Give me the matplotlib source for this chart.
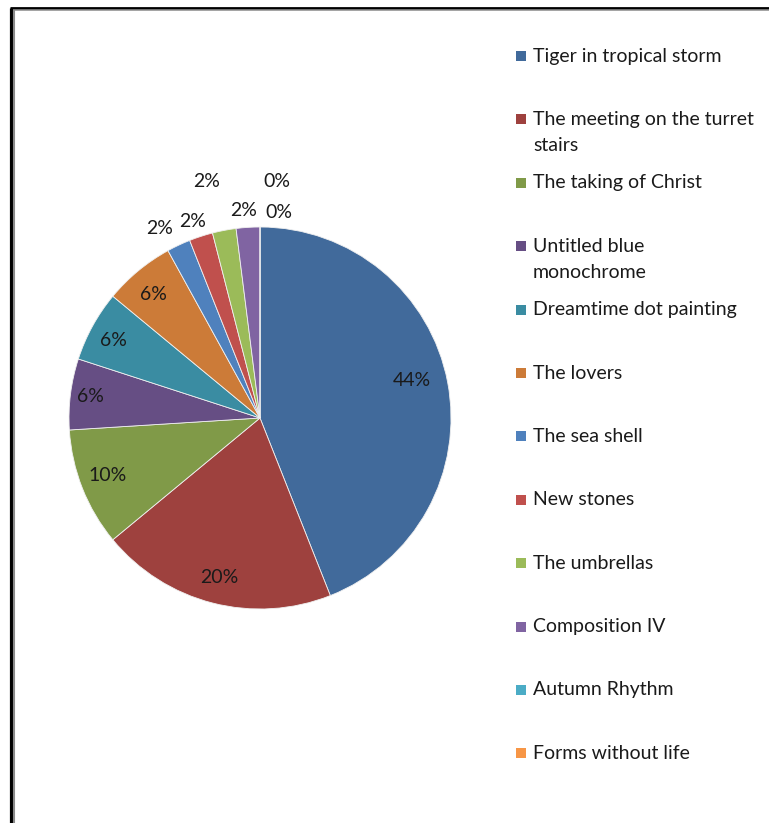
import numpy as np
import matplotlib
matplotlib.use("Agg")
import matplotlib.pyplot as plt
from matplotlib.patches import Rectangle
from matplotlib.lines import Line2D

# ---- data ----
categories = [
    "Tiger in tropical storm",
    "The meeting on the turret\nstairs",
    "The taking of Christ",
    "Untitled blue\nmonochrome",
    "Dreamtime dot painting",
    "The lovers",
    "The sea shell",
    "New stones",
    "The umbrellas",
    "Composition IV",
    "Autumn Rhythm",
    "Forms without life",
]
values = [44, 20, 10, 6, 6, 6, 2, 2, 2, 2, 0, 0]
colors = ["#416A9B", "#9E413E", "#809A48", "#664E84", "#3A8CA2", "#CC7B38",
          "#4F81BD", "#C0504D", "#9BBB59", "#8064A2", "#4BACC6", "#F79646"]

# label placement (radius in pie units, angular nudge in degrees)
label_r = [0.82, 0.86, 0.855, 0.895, 0.87, 0.855, 1.12, 1.09, 1.27, 1.09, 1.24, 1.08]
label_dtheta = [3, 0, -1, 0, 1, 1, 2.7, 1, 2, 1, -4.1, -5.3]

plt.rcParams['font.family'] = ['Lato', 'DejaVu Sans']
FS = 14
TXT = "#1a1a1a"

W, H = 769, 823
fig = plt.figure(figsize=(W / 100, H / 100), dpi=100)

# overlay axes in pixel coordinates (frame + legend)
ov = fig.add_axes([0, 0, 1, 1])
ov.set_xlim(0, W)
ov.set_ylim(H, 0)
ov.axis('off')

# frame lines
ov.add_line(Line2D([11, 11], [8, H + 5], color="black", lw=2.3, solid_capstyle='butt'))
ov.add_line(Line2D([9.5, W + 5], [8, 8], color="black", lw=2.0, solid_capstyle='butt'))
ov.add_line(Line2D([14, 14], [10, H + 5], color="#8a8a8a", lw=1.5, solid_capstyle='butt'))
ov.add_line(Line2D([13, W + 5], [10.2, 10.2], color="#8a8a8a", lw=1.1, solid_capstyle='butt'))

# pie axes
cx, cy, R = 260, 418, 191
ax = fig.add_axes([(cx - R) / W, (H - (cy + R)) / H, 2 * R / W, 2 * R / H])
wedges, _ = ax.pie(values, colors=colors, startangle=90, counterclock=False,
                   radius=1, wedgeprops=dict(edgecolor="#f0f0f0", linewidth=0.6))
ax.set_xlim(-1, 1)
ax.set_ylim(-1, 1)
ax.set_aspect('equal')
ax.axis('off')

total = float(sum(values))
cum = 0.0
for v, r, dt in zip(values, label_r, label_dtheta):
    mid = 90 - 360 * (cum + v / 2) / total + dt
    cum += v
    th = np.deg2rad(mid)
    ax.text(r * np.cos(th), r * np.sin(th), f"{v / total * 100:.0f}%",
            ha='center', va='center', fontsize=FS, color=TXT, clip_on=False)

# legend (manual, Excel-like uniform spacing)
y0, dy, line_h = 56, 63.4, 26
for i, (lab, col) in enumerate(zip(categories, colors)):
    y = y0 + i * dy
    ov.add_patch(Rectangle((516, y - 5), 10, 10, facecolor=col, edgecolor='none'))
    for j, part in enumerate(lab.split("\n")):
        ov.text(533, y + j * line_h, part, ha='left', va='center', fontsize=FS,
                color=TXT)

fig.savefig("out.png", dpi=100, facecolor='white')
